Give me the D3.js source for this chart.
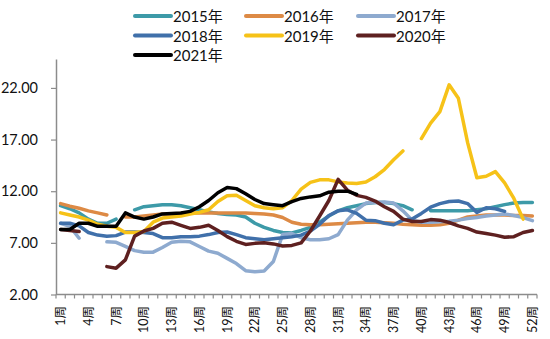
<!DOCTYPE html>
<html><head><meta charset="utf-8">
<script src="https://cdn.jsdelivr.net/npm/d3@7/dist/d3.min.js"></script>
<style>
html,body{margin:0;padding:0;background:#fff;}
svg{display:block;font-family:Lato,"Noto Sans CJK SC",sans-serif;}
</style></head>
<body>
<svg id="chart" width="550" height="339"></svg>
<script>
const categories = ["1周","2周","3周","4周","5周","6周","7周","8周","9周","10周","11周","12周","13周","14周","15周","16周","17周","18周","19周","20周","21周","22周","23周","24周","25周","26周","27周","28周","29周","30周","31周","32周","33周","34周","35周","36周","37周","38周","39周","40周","41周","42周","43周","44周","45周","46周","47周","48周","49周","50周","51周","52周"];
const tickLabels = ["1周","4周","7周","10周","13周","16周","19周","22周","25周","28周","31周","34周","37周","40周","43周","46周","49周","52周"];
const yTicks = [2, 7, 12, 17, 22];
const seriesNames = ["2015年","2016年","2017年","2018年","2019年","2020年","2021年"];

const s2015 = [10.6,10.3,9.9,9.3,8.9,8.9,9.3,null,10.2,10.5,10.6,10.7,10.7,10.6,10.4,10.2,10.0,9.85,9.75,9.7,9.5,8.9,8.5,8.2,8.0,7.95,8.2,8.5,9.0,9.6,10.1,10.4,10.6,10.8,10.9,10.9,10.8,10.6,10.2,null,10.1,10.1,10.1,10.1,10.1,10.2,10.3,10.5,10.7,10.85,10.9,10.9];
const s2016 = [10.8,10.55,10.35,10.1,9.9,9.7,null,9.5,9.5,9.6,9.7,9.8,9.8,9.85,9.9,9.9,9.9,9.9,9.9,9.9,9.9,9.85,9.8,9.7,9.45,9.0,8.8,8.75,8.75,8.8,8.85,8.9,8.95,9.0,9.0,8.95,8.9,8.8,8.75,8.7,8.7,8.75,8.9,9.2,9.5,9.6,9.7,9.7,9.7,9.65,9.65,9.6];
const s2017 = [8.9,8.6,7.45,null,null,7.1,7.05,6.65,6.25,6.1,6.1,6.55,7.05,7.15,7.1,6.65,6.2,6.0,5.5,5.0,4.3,4.2,4.27,5.2,7.8,7.9,7.5,7.3,7.3,7.4,7.8,9.2,10.2,10.85,10.9,10.95,10.85,10.1,9.2,9.0,9.0,9.05,9.1,9.2,9.35,9.45,9.6,9.7,9.8,9.65,9.45,9.15];
const s2018 = [8.9,8.9,8.65,8.0,7.75,7.65,7.7,8.05,8.05,8.0,7.9,7.5,7.5,7.6,7.6,7.65,7.8,8.0,8.05,7.8,7.5,7.4,7.3,7.4,7.5,7.6,7.75,8.15,8.8,9.65,10.1,10.2,9.85,9.2,9.15,8.9,8.75,9.2,9.3,9.85,10.45,10.8,11.0,11.05,10.8,9.95,10.4,10.3,10.05,null,null,null];
const s2019 = [9.9,9.7,9.5,9.2,8.8,8.6,8.5,8.0,8.0,8.1,9.0,9.4,9.5,9.6,9.8,9.95,10.2,11.0,11.55,11.6,11.1,10.6,10.4,10.3,10.4,11.1,12.2,12.85,13.1,13.1,12.9,12.8,12.75,12.9,13.4,14.1,15.05,15.9,null,17.1,18.6,19.7,22.3,21.0,16.7,13.3,13.45,13.9,12.8,11.3,9.3,null];
const s2020 = [8.3,8.2,8.1,null,null,4.7,4.55,5.35,7.65,8.15,8.4,8.9,9.0,8.7,8.4,8.5,8.7,8.2,7.6,7.15,6.85,6.95,7.0,6.9,6.7,6.75,7.0,8.15,9.6,11.1,13.15,12.1,11.6,11.4,11.05,10.5,10.05,9.3,9.07,9.07,9.25,9.2,8.97,8.65,8.4,8.05,7.9,7.75,7.55,7.6,8.0,8.2];
const s2021 = [8.3,8.3,8.9,8.9,8.6,8.6,8.6,9.9,9.5,9.3,9.5,9.8,9.85,9.9,10.05,10.5,11.1,11.85,12.35,12.25,11.75,11.2,10.8,10.7,10.6,11.0,11.3,11.45,11.55,11.9,12.0,12.0,11.7,null,null,null,null,null,null,null,null,null,null,null,null,null,null,null,null,null,null,null];

const colors = ["#3d9aa8","#dd8a45","#8eaacf","#4070aa","#f6c218","#5e2020","#000000"];
const seriesData = [s2015,s2016,s2017,s2018,s2019,s2020,s2021];

const svg = d3.select("#chart");
const pL = 56, pR = 537, pT = 59, pB = 294.5;
const x = d3.scaleBand().domain(categories).range([pL, pR]).padding(0);
const y = d3.scaleLinear().domain([2, 24.8]).range([pB, pT]);
const axisColor = "#8c8c8c";

// Y axis
const yAxis = svg.append("g").attr("transform", `translate(${pL},0)`)
  .call(d3.axisLeft(y).tickValues(yTicks).tickFormat(d3.format(".2f")).tickSize(5).tickSizeOuter(0));
yAxis.select(".domain").attr("stroke", axisColor).attr("stroke-width", 1.5);
yAxis.selectAll(".tick line").attr("stroke", axisColor).attr("stroke-width", 1.2);
yAxis.selectAll(".tick text").attr("x", -18).attr("font-size", "14.5px").attr("fill", "#111")
  .attr("font-family", "Lato, sans-serif");

// X axis
const xg = svg.append("g");
xg.append("line").attr("x1", pL).attr("x2", pR).attr("y1", pB).attr("y2", pB)
  .attr("stroke", axisColor).attr("stroke-width", 1.5);
const bounds = categories.map(c => x(c)).concat([x(categories[categories.length-1]) + x.bandwidth()]);
xg.selectAll("line.tk").data(bounds).enter().append("line").attr("class","tk")
  .attr("x1", d => d).attr("x2", d => d).attr("y1", pB).attr("y2", pB + 4)
  .attr("stroke", axisColor).attr("stroke-width", 1.2);
xg.selectAll("text").data(tickLabels).enter().append("text")
  .attr("transform", d => `translate(${x(d) + x.bandwidth()/2},306) rotate(-90)`)
  .attr("text-anchor", "end").attr("dominant-baseline", "central")
  .attr("font-size", "12.5px").attr("fill", "#111").text(d => d);

// Lines
const line = d3.line()
  .defined(d => d.v != null)
  .x(d => x(d.c) + x.bandwidth()/2)
  .y(d => y(d.v));
seriesData.forEach((s, i) => {
  svg.append("path")
    .datum(categories.map((c, j) => ({c: c, v: s[j]})))
    .attr("d", line)
    .attr("fill", "none")
    .attr("stroke", colors[i])
    .attr("stroke-width", 3.5)
    .attr("stroke-linejoin", "round")
    .attr("stroke-linecap", "round");
});

// Legend
const legCols = [135, 246, 358];
const legRows = [16, 35.5, 55];
const lg = svg.append("g");
seriesNames.forEach((n, i) => {
  const cx = legCols[i % 3], cy = legRows[Math.floor(i / 3)];
  lg.append("line").attr("x1", cx).attr("x2", cx + 36).attr("y1", cy).attr("y2", cy)
    .attr("stroke", colors[i]).attr("stroke-width", 4).attr("stroke-linecap", "round");
  lg.append("text").attr("x", cx + 38).attr("y", cy).attr("dominant-baseline", "central")
    .attr("font-size", "15px").attr("fill", "#111").text(n);
});
</script>
</body></html>
